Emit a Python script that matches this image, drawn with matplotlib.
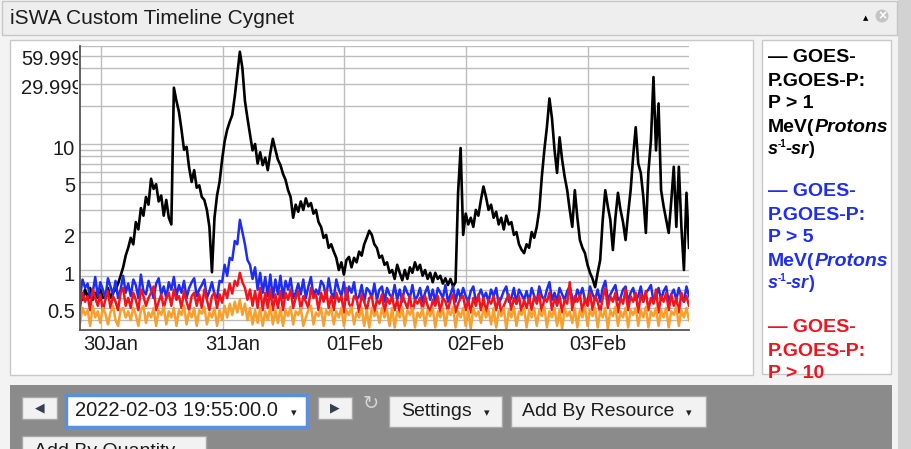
import numpy as np
import matplotlib.pyplot as plt
import matplotlib.transforms as mtransforms
from matplotlib.patches import Rectangle, Circle
from matplotlib.ticker import LogLocator, NullFormatter

plt.rcParams['font.family'] = ['Liberation Sans', 'DejaVu Sans']

# GOES-P proton flux, 30 min steps from 2022-01-29 19:55 to 2022-02-03 19:55
start = np.datetime64('2022-01-29T19:55')
times = start + np.arange(241) * np.timedelta64(30, 'm')

p1 = [0.65,0.58,0.7,0.6,0.72,0.58,0.66,0.6,0.7,0.6,0.62,0.72,0.6,0.66,0.7,0.78,0.9,1.05,1.3,1.5,
      1.8,1.6,2.4,2.1,3.1,2.7,3.8,3.3,5.3,4.4,4.8,3.5,3.9,2.7,3.6,2.6,2.3,28,22,18,
      13,9,9.5,6.5,5,6.2,4.5,4.7,3.8,3.6,3.0,2.2,0.96,2.6,3.9,5.0,7.5,10.5,13,15,
      17,24,36,54,40,22,16,12,8.9,10,7.0,8.6,6.8,7.8,6.2,8.5,11,9,7.5,6.8,
      5.8,5.2,4.3,3.8,2.6,3.3,2.9,3.5,3.0,3.7,3.2,3.4,2.8,3.0,2.4,2.2,1.8,1.9,1.5,1.6,
      1.4,1.25,1.0,1.15,0.92,1.2,1.27,1.05,1.25,1.15,1.4,1.3,1.6,1.8,2.05,1.9,1.6,1.5,1.25,1.3,
      1.1,1.15,0.95,1.0,0.85,1.1,0.95,0.83,1.0,0.85,1.05,0.95,1.15,1.0,1.1,0.9,1.0,0.85,0.95,0.8,
      0.95,0.85,0.9,0.78,0.86,0.76,0.85,0.74,0.8,4.1,9.3,1.9,2.8,2.3,2.6,2.2,3.0,2.7,3.6,4.6,
      3.8,3.0,3.3,2.6,2.9,2.3,2.6,2.1,2.7,2.3,2.4,1.9,2.0,1.6,1.45,1.36,1.6,1.5,2.0,1.8,
      2.2,3.0,5.5,9,13.6,23,16,9,5.9,11.3,7.5,5.5,4.3,3.0,2.2,4.3,2.6,1.73,1.5,1.36,
      1.1,0.95,0.85,0.73,0.95,1.2,2.5,4.3,3.2,2.5,1.44,2.6,4.1,3.0,2.4,1.73,2.8,4.3,8,13.6,
      7,5.9,3.8,1.97,6,10.7,34,8.9,21,4.3,3.2,2.5,1.97,3.5,6.6,2.2,6.6,2.2,1.0,4.1,
      1.5]

p5 = [0.62,0.84,0.72,0.78,0.6,0.66,0.88,0.62,0.8,0.7,0.6,0.86,0.74,0.64,0.82,0.6,0.7,0.9,0.66,0.78,
      0.62,0.84,0.76,0.6,0.92,0.68,0.64,0.82,0.7,0.6,0.78,0.86,0.64,0.74,0.6,0.8,0.7,0.88,0.62,0.76,
      0.66,0.82,0.6,0.72,0.8,0.86,0.62,0.7,0.76,0.84,0.6,0.68,0.8,0.64,0.6,0.82,0.8,1.1,0.9,1.25,
      1.2,1.7,1.6,2.5,2.0,1.6,1.2,1.1,0.85,1.05,0.7,0.95,0.66,0.88,0.62,0.92,0.6,0.84,0.64,0.9,
      0.6,0.82,0.7,0.86,0.6,0.66,0.78,0.64,0.84,0.6,0.74,0.88,0.62,0.7,0.64,0.82,0.76,0.6,0.86,0.66,
      0.6,0.84,0.7,0.62,0.8,0.58,0.74,0.66,0.8,0.58,0.62,0.76,0.56,0.72,0.68,0.6,0.78,0.58,0.7,0.74,
      0.56,0.72,0.64,0.6,0.76,0.58,0.7,0.56,0.74,0.66,0.6,0.76,0.58,0.62,0.72,0.56,0.66,0.74,0.58,0.7,
      0.56,0.72,0.66,0.6,0.76,0.56,0.64,0.74,0.56,0.7,0.6,0.72,0.62,0.56,0.68,0.74,0.56,0.62,0.7,0.6,
      0.66,0.56,0.7,0.62,0.72,0.54,0.6,0.68,0.74,0.56,0.6,0.72,0.54,0.7,0.64,0.58,0.68,0.56,0.72,0.62,
      0.56,0.74,0.62,0.58,0.7,0.8,0.58,0.66,0.56,0.72,0.64,0.58,0.68,0.74,0.6,0.56,0.7,0.62,0.72,0.58,
      0.56,0.74,0.64,0.58,0.7,0.56,0.72,0.82,0.58,0.64,0.7,0.76,0.58,0.6,0.7,0.74,0.56,0.66,0.72,0.58,
      0.62,0.74,0.56,0.66,0.7,0.76,0.56,0.62,0.72,0.58,0.68,0.74,0.56,0.64,0.7,0.58,0.72,0.6,0.56,0.74,
      0.62]

p10 = [0.5,0.66,0.56,0.62,0.48,0.7,0.6,0.52,0.64,0.48,0.58,0.68,0.5,0.62,0.56,0.48,0.66,0.72,0.52,0.6,
       0.5,0.66,0.58,0.48,0.7,0.62,0.52,0.6,0.66,0.74,0.48,0.56,0.64,0.5,0.6,0.66,0.52,0.7,0.58,0.62,
       0.5,0.68,0.56,0.48,0.62,0.66,0.52,0.64,0.5,0.7,0.58,0.48,0.62,0.66,0.5,0.64,0.55,0.7,0.6,0.78,
       0.65,0.82,0.75,0.95,0.8,0.72,0.58,0.7,0.52,0.68,0.5,0.72,0.48,0.66,0.5,0.7,0.48,0.64,0.5,0.68,
       0.48,0.66,0.58,0.7,0.5,0.6,0.68,0.48,0.62,0.56,0.5,0.72,0.6,0.64,0.48,0.66,0.56,0.7,0.5,0.62,
       0.48,0.66,0.56,0.62,0.46,0.72,0.54,0.5,0.62,0.6,0.46,0.64,0.56,0.48,0.6,0.62,0.46,0.58,0.54,0.64,
       0.46,0.6,0.54,0.62,0.48,0.58,0.46,0.64,0.56,0.5,0.62,0.46,0.58,0.54,0.6,0.48,0.62,0.52,0.46,0.58,
       0.52,0.62,0.46,0.6,0.56,0.48,0.58,0.64,0.46,0.54,0.6,0.62,0.48,0.58,0.46,0.6,0.52,0.64,0.48,0.6,
       0.46,0.58,0.54,0.62,0.48,0.6,0.46,0.52,0.58,0.64,0.48,0.6,0.54,0.62,0.46,0.58,0.5,0.6,0.48,0.62,
       0.54,0.64,0.46,0.6,0.56,0.66,0.48,0.6,0.52,0.62,0.46,0.58,0.54,0.8,0.48,0.62,0.56,0.64,0.46,0.6,
       0.52,0.66,0.48,0.62,0.56,0.46,0.6,0.72,0.5,0.62,0.56,0.66,0.46,0.6,0.54,0.7,0.48,0.62,0.56,0.66,
       0.46,0.64,0.56,0.68,0.48,0.6,0.54,0.7,0.46,0.62,0.56,0.66,0.48,0.64,0.52,0.6,0.46,0.66,0.56,0.62,
       0.52]

p30 = [0.38,0.5,0.44,0.48,0.36,0.52,0.42,0.47,0.38,0.5,0.45,0.37,0.46,0.52,0.4,0.36,0.48,0.5,0.42,0.47,
       0.4,0.5,0.44,0.36,0.48,0.52,0.38,0.46,0.42,0.5,0.36,0.48,0.44,0.51,0.37,0.47,0.42,0.5,0.36,0.48,
       0.44,0.52,0.37,0.47,0.42,0.5,0.36,0.48,0.45,0.51,0.37,0.46,0.42,0.5,0.36,0.48,0.4,0.52,0.42,0.54,
       0.44,0.56,0.46,0.58,0.44,0.54,0.4,0.5,0.37,0.48,0.38,0.5,0.36,0.47,0.4,0.52,0.37,0.48,0.38,0.5,
       0.36,0.48,0.43,0.51,0.37,0.47,0.44,0.5,0.36,0.42,0.48,0.52,0.37,0.46,0.43,0.5,0.36,0.48,0.44,0.5,
       0.37,0.47,0.42,0.5,0.36,0.48,0.44,0.51,0.37,0.46,0.42,0.5,0.36,0.48,0.35,0.5,0.43,0.47,0.38,0.5,
       0.42,0.48,0.36,0.5,0.35,0.47,0.42,0.51,0.36,0.48,0.44,0.5,0.35,0.46,0.42,0.5,0.36,0.48,0.43,0.5,
       0.35,0.47,0.42,0.5,0.36,0.48,0.44,0.51,0.35,0.47,0.42,0.5,0.36,0.48,0.34,0.5,0.43,0.47,0.38,0.5,
       0.42,0.48,0.37,0.5,0.35,0.47,0.43,0.5,0.34,0.48,0.42,0.51,0.36,0.47,0.44,0.5,0.35,0.48,0.42,0.5,
       0.36,0.48,0.43,0.51,0.35,0.47,0.42,0.5,0.36,0.48,0.34,0.5,0.43,0.47,0.38,0.5,0.35,0.48,0.42,0.51,
       0.36,0.48,0.43,0.5,0.35,0.47,0.42,0.5,0.34,0.48,0.43,0.51,0.36,0.47,0.42,0.5,0.35,0.48,0.44,0.5,
       0.36,0.48,0.42,0.51,0.35,0.47,0.43,0.5,0.36,0.48,0.42,0.5,0.35,0.47,0.44,0.51,0.36,0.48,0.42,0.5,
       0.4]

days = np.array(['2022-01-30', '2022-01-31', '2022-02-01', '2022-02-02', '2022-02-03'], dtype='datetime64[m]')
day_labels = ['30Jan', '31Jan', '01Feb', '02Feb', '03Feb']
ytick_vals = [0.5, 1, 2, 5, 10, 29.999, 59.999]
ytick_labels = ['0.5', '1', '2', '5', '10', '29.999', '59.999']

W, H = 912, 449
fig = plt.figure(figsize=(W / 100, H / 100), dpi=100)

# widget chrome, drawn in pixel coordinates
bg = fig.add_axes([0, 0, 1, 1])
bg.set_xlim(0, W)
bg.set_ylim(H, 0)
bg.axis('off')
bg.add_patch(Rectangle((0, 0), W, H, fc='#f3f3f3', ec='none'))
bg.add_patch(Rectangle((898, 0), 14, H, fc='#d2d2d2', ec='none'))
bg.add_patch(Rectangle((2, 1), 895, 34, fc='#eeeeee', ec='#c6c6c6', lw=1))
bg.text(10, 18, 'iSWA Custom Timeline Cygnet', fontsize=15, color='#1c1c1c', va='center')
bg.text(866, 18, '▲', fontsize=5, color='black', ha='center', va='center', family='DejaVu Sans')
bg.add_patch(Circle((882, 16), 6.5, fc='#c4c4c4', ec='none'))
bg.text(882, 16, '×', fontsize=10, color='white', ha='center', va='center', fontweight='bold')

bg.add_patch(Rectangle((10, 40), 743, 335, fc='white', ec='#c8c8c8', lw=1))
leg_box = Rectangle((762, 40), 129, 334, fc='white', ec='#c8c8c8', lw=1)
bg.add_patch(leg_box)

# toolbar
bg.add_patch(Rectangle((10, 385), 882, 70, fc='#8b8b8b', ec='none'))
btn = dict(fc='#f2f2f2', ec='#a8a8a8', lw=1)
bg.add_patch(Rectangle((22, 397), 35, 22, **btn))
bg.text(39.5, 408, '◀', fontsize=9, color='#34404e', ha='center', va='center', family='DejaVu Sans')
bg.add_patch(Rectangle((66, 395), 241, 32, fc='white', ec='#5b8fdc', lw=2.5))
bg.text(75, 411, '2022-02-03 19:55:00.0', fontsize=14.5, color='#1c1c1c', va='center')
bg.text(294, 413, '▾', fontsize=8, color='#222222', ha='center', va='center', family='DejaVu Sans')
bg.add_patch(Rectangle((318, 397), 34, 22, **btn))
bg.text(335, 408, '▶', fontsize=9, color='#34404e', ha='center', va='center', family='DejaVu Sans')
bg.text(371, 404, '↻', fontsize=14, color='#d6d6d6', ha='center', va='center', family='DejaVu Sans')
bg.add_patch(Rectangle((389, 396), 113, 31, **btn))
bg.text(401, 411, 'Settings', fontsize=14, color='#1c1c1c', va='center')
bg.text(487, 413, '▾', fontsize=8, color='#222222', ha='center', va='center', family='DejaVu Sans')
bg.add_patch(Rectangle((511, 396), 195, 31, **btn))
bg.text(522, 411, 'Add By Resource', fontsize=14, color='#1c1c1c', va='center')
bg.text(689, 413, '▾', fontsize=8, color='#222222', ha='center', va='center', family='DejaVu Sans')
bg.add_patch(Rectangle((22, 436), 184, 30, **btn))
bg.text(34, 452, 'Add By Quantity', fontsize=14, color='#1c1c1c', va='center')

# legend column
groups = [('black', 'P > 1', 58), ('#1f2cf2', 'P > 5', 192), ('#f0141e', 'P > 10', 328)]
for col, lab, y0 in groups:
    rows = ['— GOES-', 'P.GOES-P:', lab]
    for k, s in enumerate(rows):
        t = bg.text(768, y0 + 23 * k, s, fontsize=14, fontweight='bold', color=col, va='center')
        t.set_clip_path(leg_box)
    if lab == 'P > 10':
        continue
    y = y0 + 69
    parts = [(768, y, 'MeV(', 'normal', 14), (815, y, 'Protons', 'italic', 14),
             (768, y + 23, 's', 'italic', 13), (778, y + 17, '-1', 'normal', 7),
             (786, y + 23, '-sr', 'italic', 13), (808, y + 23, ')', 'normal', 13)]
    for x, yy, s, st, fs in parts:
        t = bg.text(x, yy, s, fontsize=fs, fontweight='bold', style=st, color=col, va='center')
        t.set_clip_path(leg_box)

# chart
ax = fig.add_axes([80 / W, (H - 330) / H, 609 / W, 284 / H])
ax.plot(times, p1, color='black', lw=1.9)
ax.plot(times, p5, color='#1f2cf2', lw=1.8)
ax.plot(times, p10, color='#f0141e', lw=1.8)
ax.plot(times, p30, color='#f99f2c', lw=1.8)

ax.set_yscale('log')
ax.set_ylim(0.334, 60)
ax.set_xlim(times[0], times[-1])
ax.yaxis.set_major_locator(LogLocator(base=10, subs=np.arange(1, 10), numticks=40))
ax.yaxis.set_major_formatter(NullFormatter())
ax.yaxis.set_minor_locator(LogLocator(base=10, subs=[]))
ax.set_xticks(days)
ax.set_xticklabels([])
ax.tick_params(length=0)
ax.grid(True, color='#bdbdbd', lw=1)
ax.set_axisbelow(True)
for side in ['top', 'right']:
    ax.spines[side].set_visible(False)
for side in ['left', 'bottom']:
    ax.spines[side].set_color('#555555')
    ax.spines[side].set_linewidth(1.3)

# y labels sit a little below their grid lines; long ones are cut by the plot edge
clip = mtransforms.Bbox.from_extents(0, 0, 78, H)
for v, lab in zip(ytick_vals, ytick_labels):
    dy = -13 if lab == '59.999' else -5
    dx = 3 if len(lab) > 3 else -5
    tr = mtransforms.offset_copy(ax.get_yaxis_transform(), fig=fig, x=dx, y=dy, units='dots')
    t = fig.text(0, v, lab, transform=tr, ha='right', va='center', fontsize=14.5, color='#1c1c1c')
    t.set_clip_box(clip)
    t.set_clip_on(True)

for d, lab in zip(days, day_labels):
    tr = mtransforms.offset_copy(ax.get_xaxis_transform(), fig=fig, x=10, y=-15, units='dots')
    ax.text(d, 0, lab, transform=tr, ha='center', va='center', fontsize=14.5, color='#1c1c1c')

fig.savefig('out.png', dpi=100)
